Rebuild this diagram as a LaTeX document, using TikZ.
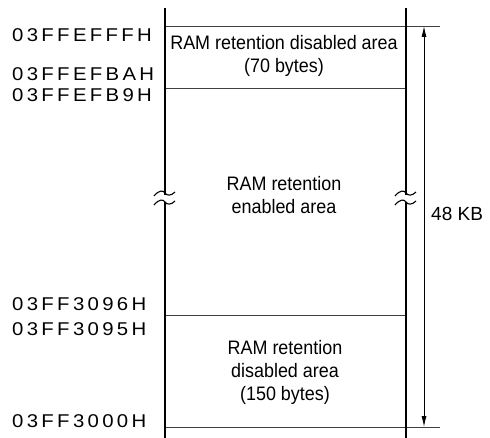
\documentclass[tikz,border=0pt]{standalone}
\usepackage{fontspec}
\setmainfont{Liberation Sans}
\newfontfamily\addrfont[FakeStretch=1.1,LetterSpace=18]{Liberation Sans}
\newfontfamily\areafont[FakeStretch=0.92]{Liberation Sans}
\usetikzlibrary{arrows.meta}
\begin{document}
\begin{tikzpicture}[x=1pt,y=-1pt,
  addr/.style={anchor=base west,inner sep=0pt,font=\addrfont\fontsize{18.5}{20}\selectfont},
  area/.style={align=center,inner sep=0pt,font=\areafont\fontsize{19.5}{23}\selectfont},
  sepline/.style={line width=0.9pt,draw=black!75},
  wall/.style={line width=2.4pt,draw=black},
  dimline/.style={line width=0.9pt,draw=black,{Latex[length=11pt,width=5pt]}-{Latex[length=11pt,width=5pt]}},
  brk/.style={line width=1.1pt,draw=black}]
\useasboundingbox (0,0) rectangle (490,438);
% separators
\coordinate (h1a) at (165,26);  \coordinate (h1b) at (440,26);
\coordinate (h2a) at (165,88);  \coordinate (h2b) at (406,88);
\coordinate (h3a) at (165,315); \coordinate (h3b) at (406,315);
\coordinate (h4a) at (165,427); \coordinate (h4b) at (440,427);
\draw[sepline] (h1a) -- (h1b);
\draw[sepline] (h2a) -- (h2b);
\draw[sepline] (h3a) -- (h3b);
\draw[sepline] (h4a) -- (h4b);
% walls
\coordinate (wl1) at (165,8); \coordinate (wl2) at (165,438);
\coordinate (wr1) at (406,8); \coordinate (wr2) at (406,438);
\draw[wall] (wl1) -- (wl2);
\draw[wall] (wr1) -- (wr2);
% breaks
\foreach \cx in {165,406}{
  \fill[white] (\cx-3,195) rectangle (\cx+3,202);
  \draw[brk] (\cx-11,196) .. controls (\cx-6,190) and (\cx-2,190) .. (\cx,193)
             .. controls (\cx+2,196) and (\cx+6,196) .. (\cx+10,192);
  \draw[brk] (\cx-11,205) .. controls (\cx-6,199) and (\cx-2,199) .. (\cx,202)
             .. controls (\cx+2,205) and (\cx+6,205) .. (\cx+10,201);
}
% dimension arrow
\coordinate (d1) at (424,26); \coordinate (d2) at (424,427);
\draw[dimline] (d1) -- (d2);
\node[anchor=base west,inner sep=0pt,font=\fontsize{19}{22}\selectfont] (kb) at (431,221) {48 KB};
% area texts
\node[area] (a1) at (284,55.5) {RAM retention disabled area\\(70 bytes)};
\node[area] (a2) at (284,195) {RAM retention\\enabled area};
\node[area] (a3) at (285,372) {RAM retention\\disabled area\\(150 bytes)};
% addresses
\node[addr] (ad1) at (12,42) {03FFEFFFH};
\node[addr] (ad2) at (12,81) {03FFEFBAH};
\node[addr] (ad3) at (12,102) {03FFEFB9H};
\node[addr] (ad4) at (12,311) {03FF3096H};
\node[addr] (ad5) at (12,336) {03FF3095H};
\node[addr] (ad6) at (12,427) {03FF3000H};
\end{tikzpicture}
\end{document}
